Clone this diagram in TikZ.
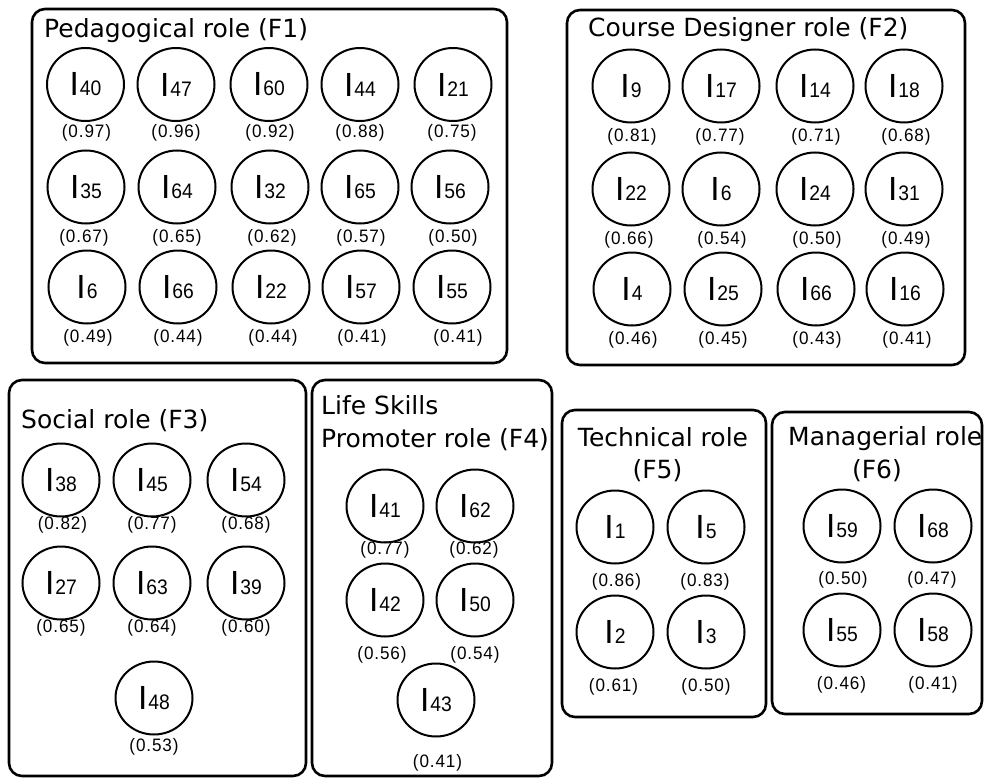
\documentclass[tikz,border=0pt]{standalone}
\usepackage{fontspec}
\setmainfont{DejaVu Sans}
\newfontfamily\Ifnt{Liberation Sans}
\newfontfamily\subfnt{Liberation Sans}[FakeStretch=0.92]
\newfontfamily\labfnt{Liberation Sans}[FakeStretch=0.95,LetterSpace=5]
\usetikzlibrary{shapes.geometric}
\tikzset{
  item/.style={ellipse, draw, line width=2pt, minimum width=77pt, minimum height=73pt, inner sep=0pt},
  lab/.style={inner sep=0pt, font=\labfnt\fontsize{18}{18}\selectfont},
  panel/.style={draw, line width=2.6pt, rounded corners=13pt},
  ttl/.style={inner sep=0pt, font=\fontsize{25}{25}\selectfont}
}
\newcommand\itm[7]{%
  \node[item] (#1) at (#2,#3) {{\Ifnt\fontsize{33.5}{33.5}\selectfont I}\kern1pt{\subfnt\fontsize{21}{21}\selectfont #4}};
  \node[lab] (#1l) at (#6,#7) {(#5)};}
\begin{document}
\begin{tikzpicture}[x=1pt,y=-1pt]
\useasboundingbox (0,0) rectangle (984,778);
% panels
\draw[panel] (32,9) rectangle (507,363);
\draw[panel] (567,10) rectangle (965,365);
\draw[panel] (9,380) rectangle (306,776);
\draw[panel] (312,380) rectangle (552,776);
\draw[panel] (562,410) rectangle (766,717);
\draw[panel] (772,412) rectangle (982,714);
% titles
\node[ttl, anchor=base west] (t1) at (44,38) {Pedagogical role (F1)};
\node[ttl, anchor=base west] (t2) at (588,37) {Course Designer role (F2)};
\node[ttl, anchor=base west] (t3) at (21,428) {Social role (F3)};
\node[ttl, anchor=base west] (t4a) at (321,414) {Life Skills};
\node[ttl, anchor=base west] (t4b) at (321,447) {Promoter role (F4)};
\node[ttl, anchor=base] (t5a) at (663,446.5) {Technical role};
\node[ttl, anchor=base] (t5b) at (657.5,478) {(F5)};
\node[ttl, anchor=base west] (t6a) at (788,445) {Managerial role};
\node[ttl, anchor=base] (t6b) at (877,478) {(F6)};
% F1
\itm{a40}{85.5}{84.5}{40}{0.97}{86.5}{133}
\itm{a47}{176}{84.5}{47}{0.96}{176}{133}
\itm{a60}{269}{84.5}{60}{0.92}{270}{133}
\itm{a44}{360}{84.5}{44}{0.88}{360}{133}
\itm{a21}{453}{84.5}{21}{0.75}{452}{133}
\itm{a35}{86}{187}{35}{0.67}{84}{238}
\itm{a64}{177}{187}{64}{0.65}{177}{238}
\itm{a32}{270}{187}{32}{0.62}{272}{238}
\itm{a65}{360}{187}{65}{0.57}{361}{238}
\itm{a56}{450}{187}{56}{0.50}{453}{238}
\itm{a6}{87}{287}{6}{0.49}{88}{337.5}
\itm{a66}{178}{287}{66}{0.44}{178}{337.5}
\itm{a22}{271}{287}{22}{0.44}{273}{337.5}
\itm{a57}{361}{287}{57}{0.41}{362}{337.5}
\itm{a55}{452}{287}{55}{0.41}{458}{337.5}
% F2
\itm{b9}{631}{86}{9}{0.81}{632}{136.5}
\itm{b17}{721}{86}{17}{0.77}{720}{136.5}
\itm{b14}{815}{86}{14}{0.71}{816}{136.5}
\itm{b18}{904}{86}{18}{0.68}{906}{136.5}
\itm{b22}{631}{189}{22}{0.66}{629}{240}
\itm{b6}{721}{189}{6}{0.54}{722}{240}
\itm{b24}{815}{189}{24}{0.50}{817}{240}
\itm{b31}{904}{189}{31}{0.49}{906}{240}
\itm{b4}{632}{289}{4}{0.46}{633}{340}
\itm{b25}{723}{289}{25}{0.45}{723}{340}
\itm{b66}{816}{289}{66}{0.43}{817}{340}
\itm{b16}{905}{289}{16}{0.41}{907}{340}
% F3
\itm{c38}{61}{480}{38}{0.82}{62.5}{525}
\itm{c45}{152}{480}{45}{0.77}{152}{525}
\itm{c54}{246}{480}{54}{0.68}{246}{525}
\itm{c27}{61}{583}{27}{0.65}{61}{628}
\itm{c63}{152}{583}{63}{0.64}{152}{628}
\itm{c39}{246}{583}{39}{0.60}{246}{628}
\itm{c48}{154}{698}{48}{0.53}{154}{747}
% F4
\itm{d41}{385}{506}{41}{0.77}{385}{550}
\itm{d62}{475}{506}{62}{0.62}{474}{550}
\itm{d42}{385}{600}{42}{0.56}{382}{655}
\itm{d50}{475}{600}{50}{0.54}{475}{655}
\itm{d43}{436}{700}{43}{0.41}{437.5}{763}
% F5
\itm{e1}{615}{527}{1}{0.86}{616.5}{582}
\itm{e5}{706}{527}{5}{0.83}{705}{582}
\itm{e2}{615}{632}{2}{0.61}{613.5}{687}
\itm{e3}{706}{632}{3}{0.50}{706}{687}
% F6
\itm{f59}{842}{526}{59}{0.50}{843}{580}
\itm{f68}{933}{526}{68}{0.47}{932}{580}
\itm{f55}{842}{630}{55}{0.46}{841.5}{685}
\itm{f58}{933}{630}{58}{0.41}{933}{685}
\end{tikzpicture}
\end{document}
